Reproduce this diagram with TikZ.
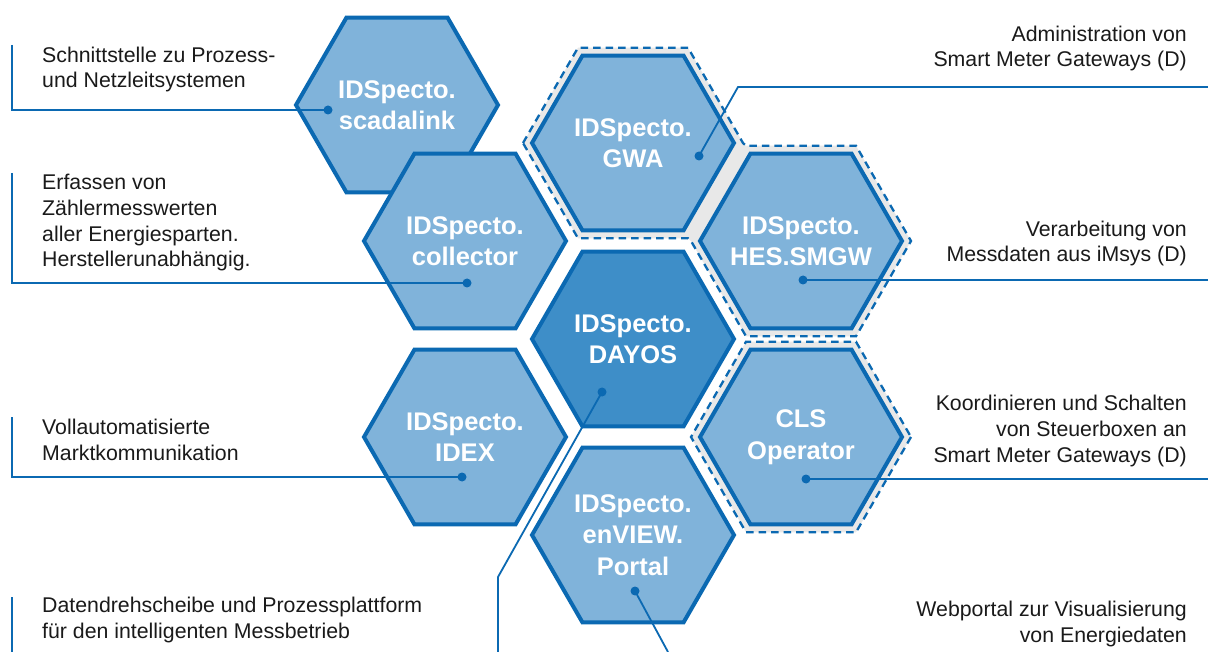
\documentclass[tikz,border=0pt]{standalone}
\usepackage{fontspec}
\setmainfont{Liberation Sans}
\usetikzlibrary{shapes.geometric,calc}
\definecolor{hexblue}{HTML}{0B69B2}
\definecolor{hexfill}{HTML}{80B3DA}
\definecolor{hexdark}{HTML}{3E8EC8}
\definecolor{bandgray}{HTML}{E8E8E8}
\definecolor{txt}{HTML}{1A1A1A}
\begin{document}
\begin{tikzpicture}[x=1pt,y=-1pt,
  hexbox/.style={regular polygon, regular polygon sides=6, minimum size=202pt, inner sep=0pt, outer sep=0pt,
    draw=hexblue, line width=4pt, fill=hexfill},
  core/.style={hexbox, fill=hexdark},
  hextext/.style={text=white, align=center, inner sep=0pt, font=\fontsize{25.5}{31.5}\selectfont\bfseries},
  band/.style={fill=bandgray, draw=hexblue, line width=2.3pt, dash pattern=on 7.5pt off 5pt},
  conn/.style={draw=hexblue, line width=1.8pt},
  dot/.style={circle, fill=hexblue, inner sep=0pt, minimum size=9pt},
  lbl/.style={inner sep=0pt, text=txt, font=\fontsize{21.3}{25.8}\selectfont},
  ]
\useasboundingbox (0,0) rectangle (1208,652);
\fill[white] (0,0) rectangle (1208,652);
% grid centres
\coordinate (cG) at (633,143);
\coordinate (cH) at (801,241);
\coordinate (cC) at (801,437);
% dashed grey bands
\path[band] ($(cG)+(180:110)$) -- ($(cG)+(240:110)$) -- ($(cG)+(300:110)$) -- ($(cG)+(0:110)$)
  -- ($(cH)+(240:110)$) -- ($(cH)+(300:110)$) -- ($(cH)+(0:110)$) -- ($(cH)+(60:110)$)
  -- ($(cH)+(120:110)$) -- ($(cH)+(180:110)$) -- ($(cG)+(60:110)$) -- ($(cG)+(120:110)$) -- cycle;
\path[band] ($(cC)+(0:110)$) -- ($(cC)+(60:110)$) -- ($(cC)+(120:110)$) -- ($(cC)+(180:110)$)
  -- ($(cC)+(240:110)$) -- ($(cC)+(300:110)$) -- cycle;
% hexagons
\node[hexbox, label={[hextext]center:{IDSpecto.\\scadalink}}] (scada) at (397,105) {};
\node[hexbox, label={[hextext]center:{IDSpecto.\\GWA}}] (gwa) at (cG) {};
\node[hexbox, label={[hextext]center:{IDSpecto.\\collector}}] (coll) at (465,241) {};
\node[hexbox, label={[hextext]center:{IDSpecto.\\HES.SMGW}}] (hes) at (cH) {};
\node[core, label={[hextext]center:{IDSpecto.\\DAYOS}}] (dayos) at (633,339) {};
\node[hexbox, label={[hextext]center:{IDSpecto.\\IDEX}}] (idex) at (465,437) {};
\node[hexbox, label={[hextext]center:{CLS\\Operator}}] (cls) at (cC) {};
\node[hexbox, label={[hextext]center:{IDSpecto.\\enVIEW.\\Portal}}] (env) at (633,535) {};
% labels left (anchor at last baseline)
\node[lbl, anchor=base west, align=left] (t1) at (42,88) {Schnittstelle zu Prozess-\\und Netzleitsystemen};
\node[lbl, anchor=base west, align=left] (t2) at (42,267) {Erfassen von\\Zählermesswerten\\aller Energiesparten.\\Herstellerunabhängig.};
\node[lbl, anchor=base west, align=left] (t3) at (42,460) {Vollautomatisierte\\Marktkommunikation};
\node[lbl, anchor=base west, align=left] (t4) at (42,638) {Datendrehscheibe und Prozessplattform\\für den intelligenten Messbetrieb};
% labels right
\node[lbl, anchor=base east, align=right] (t5) at (1187,67) {Administration von\\Smart Meter Gateways (D)};
\node[lbl, anchor=base east, align=right] (t6) at (1187,262) {Verarbeitung von\\Messdaten aus iMsys (D)};
\node[lbl, anchor=base east, align=right] (t7) at (1187,462) {Koordinieren und Schalten\\von Steuerboxen an\\Smart Meter Gateways (D)};
\node[lbl, anchor=base east, align=right] (t8) at (1187,642) {Webportal zur Visualisierung\\von Energiedaten};
% connector end points
\coordinate (a1) at (12,45);   \coordinate (a2) at (12,110);
\coordinate (b1) at (12,173);  \coordinate (b2) at (12,283);
\coordinate (c1) at (12,417);  \coordinate (c2) at (12,477);
\coordinate (e1) at (12,597);  \coordinate (e2) at (12,652);
\coordinate (f1) at (498,577); \coordinate (f2) at (498,652);
\coordinate (g1) at (738,87);  \coordinate (g2) at (1208,87);
\coordinate (h2) at (1208,280);
\coordinate (k2) at (1208,479);
\coordinate (m2) at (668,652);
% dots
\node[dot] (ds) at (328,110) {};
\node[dot] (dc) at (467,283) {};
\node[dot] (di) at (462,477) {};
\node[dot] (dd) at (602,392) {};
\node[dot] (dg) at (699,156) {};
\node[dot] (dh) at (803,280) {};
\node[dot] (dk) at (806,479) {};
\node[dot] (de) at (635,591) {};
% connectors
\draw[conn] (a1) -- (a2) -- (ds.center);
\draw[conn] (b1) -- (b2) -- (dc.center);
\draw[conn] (c1) -- (c2) -- (di.center);
\draw[conn] (e1) -- (e2);
\draw[conn] (dd.center) -- (f1) -- (f2);
\draw[conn] (dg.center) -- (g1) -- (g2);
\draw[conn] (dh.center) -- (h2);
\draw[conn] (dk.center) -- (k2);
\draw[conn] (de.center) -- (m2);
\end{tikzpicture}
\end{document}
